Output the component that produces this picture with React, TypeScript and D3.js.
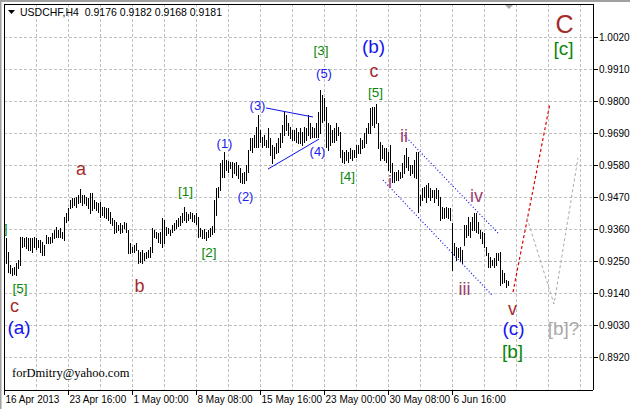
import React from "react";
import * as d3 from "d3";

const titleText = "USDCHF,H4  0.9176 0.9182 0.9168 0.9181";
const footerText = "forDmitry@yahoo.com";

const highs = [
  0.9329, 0.9281, 0.9236, 0.9226, 0.9229, 0.9243, 0.9253, 0.9333, 0.9333, 0.9329,
  0.9333, 0.9329, 0.9329, 0.9329, 0.9333, 0.9329, 0.9322, 0.9322, 0.9315, 0.9305,
  0.9339, 0.9333, 0.9333, 0.9346, 0.9357, 0.9367, 0.9357, 0.9363, 0.935, 0.9401,
  0.9415, 0.9432, 0.946, 0.9467, 0.9467, 0.947, 0.9477, 0.9498, 0.9477, 0.9477,
  0.947, 0.9467, 0.9484, 0.9484, 0.946, 0.9453, 0.9449, 0.9453, 0.9436, 0.9436,
  0.9432, 0.9432, 0.9418, 0.9398, 0.9391, 0.9384, 0.9374, 0.9381, 0.9374, 0.9384,
  0.9381, 0.9357, 0.9312, 0.9298, 0.9305, 0.9312, 0.9288, 0.9281, 0.9288, 0.9278,
  0.9281, 0.9288, 0.9298, 0.9363, 0.9357, 0.935, 0.9346, 0.935, 0.9398, 0.9391,
  0.9367, 0.9363, 0.9357, 0.9374, 0.9381, 0.9391, 0.9398, 0.9405, 0.9415, 0.9436,
  0.9418, 0.9412, 0.9418, 0.9415, 0.9408, 0.9415, 0.9401, 0.9363, 0.9357, 0.936,
  0.935, 0.9357, 0.9363, 0.937, 0.946, 0.9501, 0.9504, 0.9587, 0.9597, 0.9625,
  0.9597, 0.9594, 0.959, 0.959, 0.9587, 0.959, 0.958, 0.957, 0.9553, 0.9556,
  0.958, 0.9632, 0.9673, 0.9673, 0.9683, 0.9711, 0.9752, 0.97, 0.9676, 0.9683,
  0.9666, 0.9707, 0.9673, 0.9649, 0.9642, 0.9656, 0.9673, 0.969, 0.9718, 0.9762,
  0.9752, 0.9724, 0.9711, 0.97, 0.97, 0.9707, 0.9693, 0.9707, 0.9693, 0.9711,
  0.9707, 0.9752, 0.9724, 0.9711, 0.9707, 0.9724, 0.9762, 0.9838, 0.9821, 0.981,
  0.9779, 0.9724, 0.9718, 0.97, 0.9707, 0.9724, 0.9711, 0.9693, 0.9632, 0.9625,
  0.9632, 0.9625, 0.9638, 0.9632, 0.9632, 0.9649, 0.9649, 0.9673, 0.9666, 0.969,
  0.9707, 0.9724, 0.9776, 0.9779, 0.9779, 0.979, 0.9724, 0.9659, 0.9649, 0.9638,
  0.9638, 0.9625, 0.9649, 0.9587, 0.9556, 0.9556, 0.9563, 0.9556, 0.9587, 0.9614,
  0.9638, 0.9608, 0.958, 0.958, 0.9597, 0.9625, 0.9625, 0.9477, 0.9501, 0.9504,
  0.9511, 0.9518, 0.9501, 0.9494, 0.9494, 0.9501, 0.9494, 0.947, 0.9436, 0.9432,
  0.9436, 0.9432, 0.9432, 0.9381, 0.9312, 0.9298, 0.9295, 0.9298, 0.9288, 0.9374,
  0.9374, 0.9401, 0.9384, 0.9401, 0.9415, 0.9415, 0.9384, 0.9357, 0.935, 0.9346,
  0.9298, 0.9278, 0.9264, 0.9253, 0.926, 0.9278, 0.9278, 0.9281, 0.9219, 0.9209,
  0.9185, 0.9182,
];

const lows = [
  0.9243, 0.9212, 0.9209, 0.9202, 0.9205, 0.9202, 0.9226, 0.9236, 0.9298, 0.9302,
  0.9295, 0.9288, 0.9288, 0.9281, 0.9298, 0.9291, 0.9298, 0.9281, 0.9271, 0.9271,
  0.9312, 0.9312, 0.9312, 0.9315, 0.9329, 0.9333, 0.9333, 0.9333, 0.9329, 0.9322,
  0.9384, 0.9391, 0.9432, 0.9436, 0.9443, 0.9436, 0.9449, 0.9453, 0.9443, 0.9449,
  0.9443, 0.9432, 0.9415, 0.9425, 0.9432, 0.9425, 0.9418, 0.9401, 0.9408, 0.9401,
  0.9398, 0.9391, 0.9381, 0.9374, 0.9346, 0.935, 0.9357, 0.9346, 0.935, 0.9363,
  0.935, 0.9278, 0.9278, 0.9281, 0.9281, 0.9288, 0.9243, 0.9247, 0.9243, 0.9253,
  0.926, 0.9264, 0.9264, 0.9281, 0.9333, 0.9329, 0.9315, 0.9312, 0.9298, 0.9312,
  0.9339, 0.9346, 0.9339, 0.935, 0.9357, 0.9363, 0.937, 0.9374, 0.9384, 0.9391,
  0.9384, 0.9391, 0.9398, 0.9388, 0.9384, 0.9377, 0.9333, 0.9336, 0.9329, 0.9329,
  0.9322, 0.9333, 0.9336, 0.9343, 0.935, 0.9408, 0.947, 0.9494, 0.9539, 0.9539,
  0.9563, 0.9556, 0.957, 0.9539, 0.9553, 0.9546, 0.9535, 0.9522, 0.9518, 0.9518,
  0.9528, 0.9556, 0.9632, 0.9625, 0.9642, 0.9642, 0.9642, 0.9659, 0.9642, 0.9649,
  0.9642, 0.9642, 0.9614, 0.9587, 0.9604, 0.9621, 0.9625, 0.9642, 0.9659, 0.9683,
  0.97, 0.9683, 0.9673, 0.9666, 0.9666, 0.9659, 0.9656, 0.9656, 0.9649, 0.9659,
  0.9666, 0.9683, 0.9673, 0.9676, 0.9676, 0.9676, 0.9676, 0.969, 0.9728, 0.9735,
  0.9642, 0.9632, 0.9649, 0.9659, 0.9659, 0.9666, 0.9683, 0.9608, 0.959, 0.9587,
  0.9597, 0.959, 0.9604, 0.9597, 0.9608, 0.9608, 0.9621, 0.9621, 0.9638, 0.9642,
  0.9656, 0.969, 0.969, 0.9718, 0.9711, 0.9724, 0.9638, 0.9597, 0.9604, 0.9597,
  0.959, 0.9563, 0.9556, 0.9522, 0.9522, 0.9528, 0.9528, 0.9535, 0.9539, 0.9553,
  0.9573, 0.9563, 0.9546, 0.9553, 0.9539, 0.9535, 0.9418, 0.9443, 0.946, 0.947,
  0.9453, 0.947, 0.946, 0.947, 0.9453, 0.9467, 0.9443, 0.9391, 0.9398, 0.9398,
  0.9401, 0.9398, 0.9391, 0.9219, 0.9271, 0.9253, 0.9264, 0.9253, 0.9243, 0.9305,
  0.9333, 0.9339, 0.9333, 0.9357, 0.9357, 0.935, 0.9346, 0.9329, 0.9312, 0.9298,
  0.9271, 0.9229, 0.9229, 0.9236, 0.9229, 0.9236, 0.9253, 0.9168, 0.9174, 0.9178,
  0.9161, 0.9168,
];

const priceTicks = [1.002, 0.991, 0.98, 0.969, 0.958, 0.947, 0.936, 0.925, 0.914, 0.903, 0.892];

const timeLabels = ["16 Apr 2013", "23 Apr 16:00", "1 May 00:00", "8 May 08:00", "15 May 16:00", "23 May 00:00", "30 May 08:00", "6 Jun 16:00"];
const timeLabelBars = [-1, 31, 63, 95, 127, 159, 191, 223];
const gridBars = [15, 31, 47, 63, 79, 95, 111, 127, 143, 159, 175, 191, 207, 223, 239, 255, 271, 287];

// wave labels: text, bar index, price (baseline), degree
const waveText = ["C", "[c]", "(b)", "[3]", "(5)", "c", "[5]", "(3)", "(1)", "(4)", "(2)", "[1]", "[2]", "[4]", "[5]", "c", "(a)", "a", "b", "ii", "i", "iii", "iv", "v", "(c)", "[b]", "[b]?", "]"];
const waveBar = [279.25, 278.75, 183.75, 157.5, 159, 184, 184.75, 125.75, 109.25, 155.75, 119.75, 89.75, 101.5, 170.75, 7, 4.25, 6.5, 37.5, 66.75, 199, 192, 229.25, 235.25, 253.25, 253.75, 253.25, 278.75, -0.2];
const wavePrice = [1.0034, 0.9958, 0.9965, 0.9958, 0.9879, 0.9883, 0.9814, 0.9769, 0.9638, 0.9611, 0.9456, 0.9473, 0.9264, 0.9525, 0.914, 0.9075, 0.8999, 0.9546, 0.9143, 0.9659, 0.9501, 0.9133, 0.9453, 0.9064, 0.8996, 0.8917, 0.8996, 0.9346];
const waveDegree = ["primary", "inter", "minor", "minuette", "sub", "minute", "minuette", "sub", "sub", "sub", "sub", "minuette", "minuette", "minuette", "minuette", "minute", "minor", "minute", "minute", "roman", "roman", "roman", "roman", "minute", "minor", "inter", "alt", "minuette"];

// trend lines (bar index / price)
const triangleUpper = [[130, 0.9776], [153.5, 0.9745]];
const triangleLower = [[131, 0.9566], [156.5, 0.9669]];
const channelUpper = [[198, 0.969], [246, 0.9346]];
const channelLower = [[188.5, 0.9528], [243, 0.9133]];
const projectionMain = [[253.5, 0.9143], [272, 0.9793]];
const projectionAlt = [[260.5, 0.9398], [274, 0.9102], [286, 0.9604]];

const degreeStyle: Record<string, { color: string; size: number }> = {
  primary: { color: "#a52a2a", size: 25 },
  inter: { color: "#0a860a", size: 19 },
  alt: { color: "#a9a9a9", size: 19 },
  minor: { color: "#1414f0", size: 19 },
  minute: { color: "#a52a2a", size: 18 },
  minuette: { color: "#0a860a", size: 13.5 },
  sub: { color: "#2020f0", size: 13 },
  roman: { color: "#a0406e", size: 18 },
};

const W = 630;
const H = 409;
const L = 4;
const T = 4;
const R = 593;
const B = 390;

export default function App() {
  const x = d3.scaleLinear().domain([0, 251]).range([6, 508]);
  const y = d3.scaleLinear().domain([0.892, 1.002]).range([357, 37]);
  const line = d3
    .line<number[]>()
    .x((d) => x(d[0]))
    .y((d) => y(d[1]));

  const sans = "'Liberation Sans', Arial, sans-serif";

  return (
    <svg
      width={W}
      height={H}
      style={{ position: "absolute", left: 0, top: 0, background: "#fff", display: "block" }}
    >
      <defs>
        <clipPath id="plot">
          <rect x={L + 1} y={T + 1} width={R - L - 1} height={B - T - 1} />
        </clipPath>
      </defs>
      <rect x={0} y={0} width={W} height={H} fill="#fff" />
      {/* window edge */}
      <rect x={0} y={0} width={W} height={2} fill="#a0a0a0" />
      <rect x={0} y={0} width={1.5} height={H} fill="#a0a0a0" />

      <g clipPath="url(#plot)">
        {/* grid */}
        <g stroke="#c0c0c0" strokeDasharray="3,2" shapeRendering="crispEdges">
          {gridBars.map((b) => (
            <line key={"gx" + b} x1={x(b)} x2={x(b)} y1={T} y2={B} />
          ))}
          {priceTicks.map((p) => (
            <line key={"gy" + p} x1={L} x2={R} y1={y(p)} y2={y(p)} />
          ))}
        </g>

        {/* bars */}
        <g stroke="#000" strokeWidth={1} shapeRendering="crispEdges">
          {highs.map((h, i) => (
            <line key={"b" + i} x1={x(i) + 0.5} x2={x(i) + 0.5} y1={y(h)} y2={y(lows[i]) + 1} />
          ))}
        </g>

        {/* triangle */}
        <g stroke="#1010e8" strokeWidth={1} fill="none">
          <path d={line(triangleUpper) || ""} />
          <path d={line(triangleLower) || ""} />
        </g>
        {/* channel */}
        <g stroke="#1010e8" strokeWidth={1.2} strokeDasharray="1,2.2" fill="none">
          <path d={line(channelUpper) || ""} />
          <path d={line(channelLower) || ""} />
        </g>
        {/* projections */}
        <path d={line(projectionMain) || ""} stroke="#e00000" strokeWidth={1.2} strokeDasharray="3,2.5" fill="none" />
        <path d={line(projectionAlt) || ""} stroke="#aaaaaa" strokeWidth={1} strokeDasharray="3,2.5" fill="none" />

        {/* wave labels */}
        {waveText.map((t, i) => {
          const st = degreeStyle[waveDegree[i]];
          return (
            <text
              key={"w" + i}
              x={x(waveBar[i])}
              y={y(wavePrice[i])}
              textAnchor="middle"
              fontFamily={sans}
              fontSize={st.size}
              fill={st.color}
            >
              {t}
            </text>
          );
        })}

        {/* footer */}
        <text x={12} y={377} fontFamily="'Liberation Serif', 'Times New Roman', serif" fontSize={12.5} fill="#000">
          {footerText}
        </text>

        {/* title */}
        <path d="M8,10 L15,10 L11.5,14 Z" fill="#000" />
        <text x={20} y={15.5} fontFamily={sans} fontSize={10.5} fill="#000" style={{ whiteSpace: "pre" }}>
          {titleText}
        </text>

        {/* shift marker */}
        <path d="M505,5 L513,5 L509,9 Z" fill="#a8a8a8" />
      </g>

      {/* frame */}
      <g stroke="#000" strokeWidth={1} shapeRendering="crispEdges" fill="none">
        <line x1={L} x2={R} y1={T} y2={T} />
        <line x1={L} x2={L} y1={T} y2={B} />
        <line x1={R} x2={R} y1={T} y2={B} />
        <line x1={L} x2={R} y1={B} y2={B} />
      </g>

      {/* right axis */}
      {priceTicks.map((p) => (
        <g key={"ty" + p}>
          <line x1={R} x2={R + 5} y1={y(p)} y2={y(p)} stroke="#000" shapeRendering="crispEdges" />
          <text x={599} y={y(p) + 4} fontFamily={sans} fontSize={10} fill="#000">
            {d3.format(".4f")(p)}
          </text>
        </g>
      ))}

      {/* bottom axis */}
      {timeLabels.map((lab, i) => {
        const xx = Math.max(L, x(timeLabelBars[i]));
        return (
          <g key={"tx" + i}>
            <line x1={xx} x2={xx} y1={B} y2={B + 5} stroke="#000" shapeRendering="crispEdges" />
            <text x={xx + 1.5} y={403} fontFamily={sans} fontSize={10} fill="#000">
              {lab}
            </text>
          </g>
        );
      })}
    </svg>
  );
}
